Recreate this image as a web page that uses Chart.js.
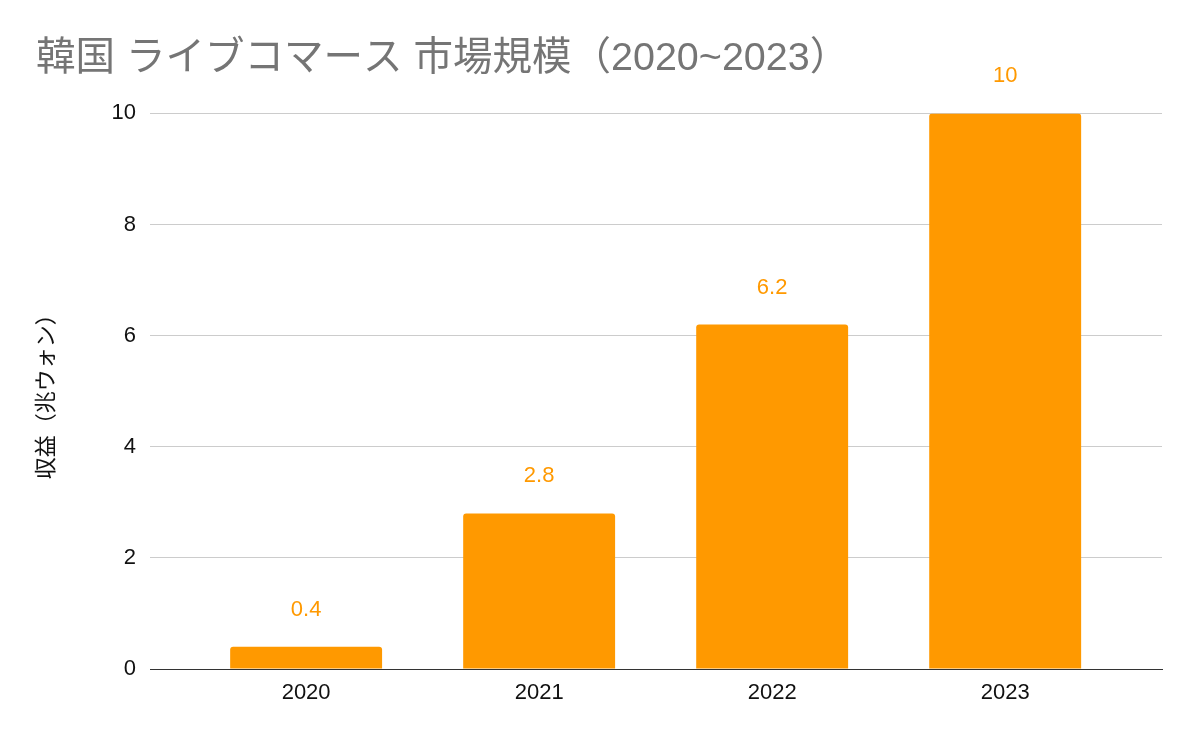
<!DOCTYPE html>
<html lang="ja">
<head>
<meta charset="utf-8">
<script src="https://cdn.jsdelivr.net/npm/chart.js@4/dist/chart.umd.min.js"></script>
<style>
  html, body { margin: 0; padding: 0; background: #fff; }
  #wrap { width: 1200px; height: 742px; }
</style>
</head>
<body>
<div id="wrap"><canvas id="marketChart" width="1200" height="742"></canvas></div>
<script>
const years = ['2020', '2021', '2022', '2023'];
const revenue = [0.4, 2.8, 6.2, 10];
const yTicks = [0, 2, 4, 6, 8, 10];

const FONT = '"Liberation Sans", "Noto Sans CJK JP", sans-serif';
const ORANGE = '#ff9900';

// values above each bar
const barValueLabels = {
  id: 'barValueLabels',
  afterDatasetsDraw(chart) {
    const ctx = chart.ctx;
    const meta = chart.getDatasetMeta(0);
    ctx.save();
    ctx.font = '22px ' + FONT;
    ctx.fillStyle = ORANGE;
    ctx.textAlign = 'center';
    ctx.textBaseline = 'middle';
    meta.data.forEach((bar, i) => {
      ctx.fillText(String(revenue[i]), bar.x, bar.y - 37);
    });
    ctx.restore();
  }
};

const createMarketChart = () => {
  const el = document.getElementById('marketChart');
  if (!el) return;

  new Chart(el, {
    type: 'bar',
    plugins: [barValueLabels],
    data: {
      datasets: [
        {
          label: '収益',
          data: years.map((y, i) => ({ x: i, y: revenue[i] })),
          backgroundColor: ORANGE,
          borderRadius: 3,
          borderSkipped: 'start',
          barPercentage: 1,
          categoryPercentage: 0.652,
        },
      ],
    },
    options: {
      responsive: false,
      animation: false,
      layout: {
        padding: { left: 36, right: 38, top: 0, bottom: 0 },
      },
      plugins: {
        legend: { display: false },
        tooltip: { enabled: false },
        title: {
          display: true,
          text: '韓国 ライブコマース 市場規模（2020~2023）',
          align: 'start',
          color: '#757575',
          font: { family: FONT, size: 39.5, weight: 'normal', lineHeight: 1.2 },
          padding: { top: 35, bottom: 31 },
        },
      },
      scales: {
        x: {
          type: 'linear',
          offset: false,
          min: -0.67,
          max: 3.673,
          grid: { display: false, drawTicks: false, offset: false },
          border: { display: true, color: '#333333', width: 1 },
          ticks: {
            stepSize: 1,
            includeBounds: false,
            autoSkip: false,
            maxRotation: 0,
            padding: 11,
            color: '#111111',
            font: { family: FONT, size: 22 },
            callback: (value) => years[value] ?? '',
          },
          afterFit: (scale) => { scale.height = 73; },
        },
        y: {
          min: 0,
          max: 10,
          afterBuildTicks: (scale) => { scale.ticks = yTicks.map(v => ({ value: v })); },
          grid: {
            drawTicks: false,
            color: (c) => (c.tick && c.tick.value === 0 ? '#333333' : '#cccccc'),
            lineWidth: 1,
          },
          border: { display: false },
          ticks: {
            padding: 14,
            color: '#111111',
            font: { family: FONT, size: 22 },
          },
          title: {
            display: true,
            text: '収益（兆ウォン）',
            color: '#111111',
            font: { family: FONT, size: 22, lineHeight: 1 },
            padding: 0,
          },
          afterFit: (scale) => { scale.width = 114; },
        },
      },
    },
  });
};

createMarketChart();
</script>
</body>
</html>
